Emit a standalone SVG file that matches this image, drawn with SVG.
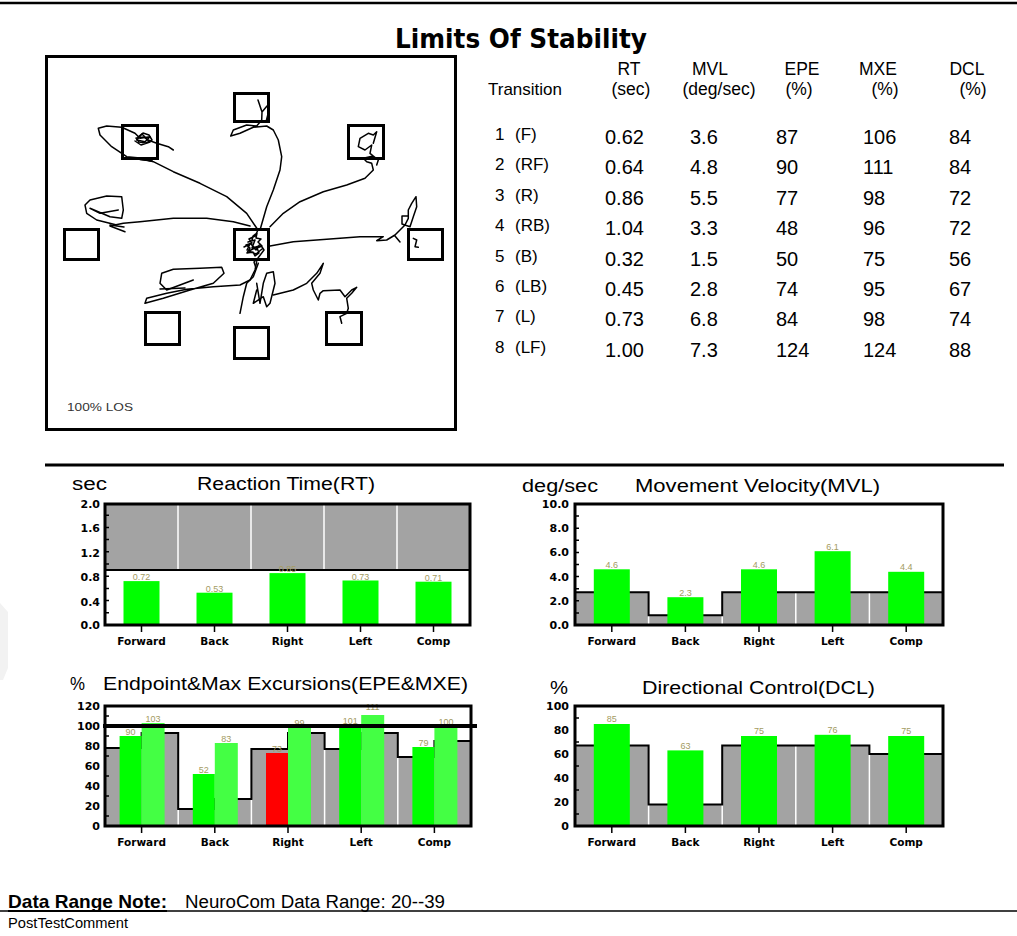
<svg xmlns="http://www.w3.org/2000/svg" width="1017" height="936" viewBox="0 0 1017 936">
<style>
  .frame{fill:none;stroke:#000;stroke-width:3}
  .gray{fill:#a3a3a3}
  .step{fill:none;stroke:#000;stroke-width:2}
  .div{stroke:#fff;stroke-width:1.5}
  .g1{fill:#00ff00}
  .g2{fill:#44ff44}
  .rd{fill:#ff0000}
  .val{font-family:"Liberation Sans",Arial,sans-serif;font-size:9px;fill:#a39b62;text-anchor:middle}
  .ytl{font-family:"DejaVu Sans",sans-serif;font-weight:bold;font-size:11px;text-anchor:end}
  .xtl{font-family:"DejaVu Sans",sans-serif;font-weight:bold;font-size:10.5px;text-anchor:middle}
  .tick{stroke:#000;stroke-width:1.5}
  .ct{font-family:"Liberation Sans",Arial,sans-serif;font-size:18px}
  .trace{fill:none;stroke:#000;stroke-width:1.5;stroke-linejoin:round;stroke-linecap:round}
  .tgt{fill:none;stroke:#000;stroke-width:3}
  .th{font-family:"Liberation Sans",Arial,sans-serif;font-size:17.5px;text-anchor:middle}
  .tl{font-family:"Liberation Sans",Arial,sans-serif;font-size:17px}
  .td{font-family:"Liberation Sans",Arial,sans-serif;font-size:20px}
</style>
<rect width="1017" height="936" fill="#fff"/>
<!-- page rules -->
<line x1="0" y1="3" x2="1017" y2="3" stroke="#000" stroke-width="2.5"/>
<line x1="45" y1="465" x2="1004" y2="465" stroke="#000" stroke-width="3"/>
<line x1="0" y1="911" x2="1017" y2="911" stroke="#000" stroke-width="1.5"/>
<polygon points="0,603 8,612 8,668 3,680 0,680" fill="#f2f2f2"/>

<text x="521" y="48" font-family="DejaVu Sans,sans-serif" font-weight="bold" font-size="27" text-anchor="middle" textLength="252" lengthAdjust="spacingAndGlyphs">Limits Of Stability</text>

<!-- sway trace plot -->
<g id="los-plot">
  <rect x="46.5" y="56.5" width="409" height="373" class="frame"/>
  <g id="traces">
    <!-- forward-left -->
    <path class="trace" d="M258,230 L246.7,213.3 L226.7,196.7 L200,183.3 L173.3,171.7 L153.3,161.7 L140,158 L126.7,156.7 L111.7,146.7 L100,135 L98.3,128.3 L106.7,126 L121.7,127.3 L135,133.3 L140,138.3 L150,136.7 L145,141.7 L136.7,140 L142,134 L148,140 L156.7,143.3 L168.3,146.7 L173.3,150"/>
    <path class="trace" d="M138,137 L143,133 L149,135 L152,140 L146,143 L139,142 L136,138 L144,137 L150,142 L141,145 L135,141 M124,158 L131,159 M138,159 L152,161"/>
    <path class="trace" d="M124,158 L131,159 M140,159.5 L152,161" stroke-width="2.5"/>
    <!-- forward -->
    <path class="trace" d="M260,230 L266.7,206.7 L273.3,190 L280,170 L281.7,156.7 L278.3,140 L273.3,130 L266.7,126 L253.3,127.3 L240,133.3 L230.7,136 L233.3,130 L246.7,125 L256.7,126 L261.7,120 L262,112 L258,100 M262,112 L267,106 M266,122 L268,114"/>
    <!-- forward-right -->
    <path class="trace" d="M270,226.7 L283.3,213.3 L300,201.7 L323.3,191.7 L346.7,185 L365,178.3 L373.3,170 L371.7,163.3 L366.7,161.7 L363.3,158.3 L373.3,156 L378.3,160 L376.7,165 M373.3,156 L370,153.3 L371.7,145 L365,150 L358.3,146.7 L360,138.3 L368.3,133.3 L373.3,135 L376.7,131.7 L373.3,143.3"/>
    <!-- left -->
    <path class="trace" d="M250,226 L233.3,221.7 L206.7,218.3 L173.3,218.3 L140,221.7 L123.3,223.3 L110,226 L125,231.7 M116.7,225 L96.7,220 L86.7,213.3 L85,205 L90,200 L106.7,196 L121.7,196.7 L123.3,210 L121.7,218.3 L110,216.7 L90,208.3 L100,213.3 L118.3,210"/>
    <path class="trace" d="M110,225 L124,227" stroke-width="2.5"/>
    <!-- right -->
    <path class="trace" d="M270,246 L293.3,241.7 L326.7,239.3 L360,236.7 L383.3,236.7 L376.7,240.7 L386.7,240 L395,235 L400,230 L405,225 L408.3,218.3 L408.3,210 L411.7,203.3 L416,196.7 L416.7,206.7 L413.3,216.7 L410,226.7 L402,224 L402,216 L408,216 M413.3,238.3 L416.7,240 L415,246.7 L418.3,247.3 M395,236 L400,242"/>
    <!-- centre -->
    <path class="trace" d="M258,230 L255,236 L249,239 L252,243 L246,245 L250,248 L247,253 L253,252 L255,256 L259,253 L257,248 L262,246 L258,242 L261,239 L256,238 L257,233 L253,236 L251,244 L256,250 L260,244 L264,250 L258,258 L254,262 L256,268 M248,242 L255,240 L252,248 L259,246 L249,251 L256,254 L262,249 M244,247 L250,244 L247,250"/>
    <!-- back-left -->
    <path class="trace" d="M256.7,261.7 L255,270 L250,280 L240,285 L213.3,286.7 L186.7,289.3 L166.7,293.3 L146.7,298.3 L145,303.3 L163.3,298.3 L190,290 L213.3,283.3 L224,273.3 L221.7,267.3 L200,268.3 L173.3,269.3 L161.7,273.3 L160,283.3 L166.7,290 L180,285 L193.3,280"/>
    <path class="trace" d="M160,289 L185,288" stroke-width="2.5"/>
    <!-- back -->
    <path class="trace" d="M258.3,263.3 L253.3,276.7 L246.7,283.3 L243.3,296.7 L240,313.3 M256.7,283.3 L260,303.3 L263.3,283.3 L266.7,273.3 L273.3,271.7 L275,283.3 L270,303.3 L266.7,306.7 L263.3,296.7 L253.3,303.3 L256.7,290"/>
    <!-- back-right -->
    <path class="trace" d="M273.3,295 L293.3,290 L306.7,283.3 L316.7,273.3 L323.3,263.3 L320,273.3 L311.7,283.3 L313.3,290 L318.3,300 L320,293.3 L323.3,290.7 L340,290 L345,296.7 L351.7,290 L356.7,287.3 L351.7,293.3 L346.7,298.3 L348.3,308.3 L346.7,313.3 L340,316.7 L341.7,323.3"/>
  </g>
  <g id="targets">
    <rect class="tgt" x="234.5" y="93.5" width="34" height="28"/>
    <rect class="tgt" x="122.5" y="125.5" width="35" height="33"/>
    <rect class="tgt" x="348.5" y="125.5" width="35" height="33"/>
    <rect class="tgt" x="64.5" y="229.5" width="34" height="30"/>
    <rect class="tgt" x="234.5" y="229.5" width="34" height="30"/>
    <rect class="tgt" x="408.5" y="229.5" width="34" height="30"/>
    <rect class="tgt" x="145.5" y="312.5" width="34" height="32"/>
    <rect class="tgt" x="234.5" y="327.5" width="34" height="31"/>
    <rect class="tgt" x="326.5" y="312.5" width="35" height="32"/>
  </g>
  <text x="67" y="411" font-family="Liberation Sans,Arial,sans-serif" font-size="11" fill="#333" textLength="66" lengthAdjust="spacingAndGlyphs">100% LOS</text>
</g>

<!-- results table -->
<g id="table">
  <text class="th" x="629" y="75">RT</text>
  <text class="th" x="710" y="75">MVL</text>
  <text class="th" x="802" y="75">EPE</text>
  <text class="th" x="878" y="75">MXE</text>
  <text class="th" x="967" y="75">DCL</text>
  <text class="tl" x="488" y="95" font-size="17.5">Transition</text>
  <text class="th" x="631" y="95">(sec)</text>
  <text class="th" x="719" y="95">(deg/sec)</text>
  <text class="th" x="799" y="95">(%)</text>
  <text class="th" x="885" y="95">(%)</text>
  <text class="th" x="973" y="95">(%)</text>
  <g class="tl">
    <text x="495" y="140">1</text><text x="515" y="140">(F)</text>
    <text x="495" y="170.4">2</text><text x="515" y="170.4">(RF)</text>
    <text x="495" y="200.8">3</text><text x="515" y="200.8">(R)</text>
    <text x="495" y="231.2">4</text><text x="515" y="231.2">(RB)</text>
    <text x="495" y="261.6">5</text><text x="515" y="261.6">(B)</text>
    <text x="495" y="292">6</text><text x="515" y="292">(LB)</text>
    <text x="495" y="322.4">7</text><text x="515" y="322.4">(L)</text>
    <text x="495" y="352.8">8</text><text x="515" y="352.8">(LF)</text>
  </g>
  <g class="td">
    <text x="605" y="144">0.62</text><text x="690" y="144">3.6</text><text x="776" y="144">87</text><text x="863" y="144">106</text><text x="949" y="144">84</text>
    <text x="605" y="174.4">0.64</text><text x="690" y="174.4">4.8</text><text x="776" y="174.4">90</text><text x="863" y="174.4">111</text><text x="949" y="174.4">84</text>
    <text x="605" y="204.8">0.86</text><text x="690" y="204.8">5.5</text><text x="776" y="204.8">77</text><text x="863" y="204.8">98</text><text x="949" y="204.8">72</text>
    <text x="605" y="235.2">1.04</text><text x="690" y="235.2">3.3</text><text x="776" y="235.2">48</text><text x="863" y="235.2">96</text><text x="949" y="235.2">72</text>
    <text x="605" y="265.6">0.32</text><text x="690" y="265.6">1.5</text><text x="776" y="265.6">50</text><text x="863" y="265.6">75</text><text x="949" y="265.6">56</text>
    <text x="605" y="296">0.45</text><text x="690" y="296">2.8</text><text x="776" y="296">74</text><text x="863" y="296">95</text><text x="949" y="296">67</text>
    <text x="605" y="326.4">0.73</text><text x="690" y="326.4">6.8</text><text x="776" y="326.4">84</text><text x="863" y="326.4">98</text><text x="949" y="326.4">74</text>
    <text x="605" y="356.8">1.00</text><text x="690" y="356.8">7.3</text><text x="776" y="356.8">124</text><text x="863" y="356.8">124</text><text x="949" y="356.8">88</text>
  </g>
</g>

<!-- Reaction Time chart -->
<g id="chart-rt">
  <text class="ct" x="72" y="490" textLength="35" lengthAdjust="spacingAndGlyphs">sec</text>
  <text class="ct" x="197" y="490" textLength="178" lengthAdjust="spacingAndGlyphs">Reaction Time(RT)</text>
  <rect class="gray" x="105" y="504" width="365" height="66"/>
  <path class="div" d="M178,504V570M251,504V570M324,504V570M397,504V570"/>
  <line x1="105" y1="570" x2="470" y2="570" stroke="#000" stroke-width="2"/>
  <rect class="g1" x="123.5" y="581.1" width="36" height="43.9"/>
  <rect class="g1" x="196.5" y="592.7" width="36" height="32.3"/>
  <rect class="g1" x="269.5" y="573.1" width="36" height="51.9"/>
  <rect class="g1" x="342.5" y="580.5" width="36" height="44.5"/>
  <rect class="g1" x="415.5" y="581.7" width="36" height="43.3"/>
  <text class="val" x="141.5" y="580">0.72</text>
  <text class="val" x="214.5" y="591.5">0.53</text>
  <text class="val" x="287.5" y="572">0.85</text>
  <text class="val" x="360.5" y="579.5">0.73</text>
  <text class="val" x="433.5" y="580.5">0.71</text>
  <rect class="frame" x="105" y="504" width="365" height="121"/>
  <path class="tick" d="M105,612.8h4M105,600.6h4M105,588.4h4M105,576.2h4M105,564h4M105,551.8h4M105,539.6h4M105,527.4h4M105,515.2h4M141.5,625v7M214.5,625v7M287.5,625v7M360.5,625v7M433.5,625v7"/>
  <g class="ytl">
    <text x="100" y="508">2.0</text><text x="100" y="532.4">1.6</text><text x="100" y="556.8">1.2</text>
    <text x="100" y="581.2">0.8</text><text x="100" y="605.6">0.4</text><text x="100" y="629">0.0</text>
  </g>
  <g class="xtl">
    <text x="141.5" y="645">Forward</text><text x="214.5" y="645">Back</text><text x="287.5" y="645">Right</text>
    <text x="360.5" y="645">Left</text><text x="433.5" y="645">Comp</text>
  </g>
</g>

<!-- Movement Velocity chart -->
<g id="chart-mvl">
  <text class="ct" x="522" y="492" textLength="76" lengthAdjust="spacingAndGlyphs">deg/sec</text>
  <text class="ct" x="635" y="492" textLength="245" lengthAdjust="spacingAndGlyphs">Movement Velocity(MVL)</text>
  <path class="gray" d="M575,625V592.3H648.6V615.3H722.2V592.3H943V625Z"/>
  <path class="div" d="M648.6,615.3V625M722.2,615.3V625M795.8,592.3V625M869.4,592.3V625"/>
  <path class="step" d="M575,592.3H648.6V615.3H722.2V592.3H943"/>
  <rect class="g1" x="593.8" y="569.3" width="36" height="55.7"/>
  <rect class="g1" x="667.4" y="597.2" width="36" height="27.8"/>
  <rect class="g1" x="741" y="569.3" width="36" height="55.7"/>
  <rect class="g1" x="814.6" y="551.2" width="36" height="73.8"/>
  <rect class="g1" x="888.2" y="571.8" width="36" height="53.2"/>
  <text class="val" x="611.8" y="567.5">4.6</text>
  <text class="val" x="685.4" y="595.5">2.3</text>
  <text class="val" x="759" y="567.5">4.6</text>
  <text class="val" x="832.6" y="549.5">6.1</text>
  <text class="val" x="906.2" y="570">4.4</text>
  <rect class="frame" x="575" y="504" width="368" height="121"/>
  <path class="tick" d="M575,612.9h4M575,600.8h4M575,588.7h4M575,576.6h4M575,564.5h4M575,552.4h4M575,540.3h4M575,528.2h4M575,516.1h4M611.8,625v7M685.4,625v7M759,625v7M832.6,625v7M906.2,625v7"/>
  <g class="ytl">
    <text x="569" y="508">10.0</text><text x="569" y="532.2">8.0</text><text x="569" y="556.4">6.0</text>
    <text x="569" y="580.6">4.0</text><text x="569" y="604.8">2.0</text><text x="569" y="629">0.0</text>
  </g>
  <g class="xtl">
    <text x="611.8" y="645">Forward</text><text x="685.4" y="645">Back</text><text x="759" y="645">Right</text>
    <text x="832.6" y="645">Left</text><text x="906.2" y="645">Comp</text>
  </g>
</g>

<!-- Endpoint & Max Excursions chart -->
<g id="chart-epe">
  <text class="ct" x="70" y="690" textLength="15" lengthAdjust="spacingAndGlyphs">%</text>
  <text class="ct" x="103" y="690" textLength="365" lengthAdjust="spacingAndGlyphs">Endpoint&amp;Max Excursions(EPE&amp;MXE)</text>
  <path class="gray" d="M105,826V748H141.6V733H178.2V809H214.8V799H251.4V749H288V733H324.6V749H361.2V733H397.8V757H434.4V741H471V826Z"/>
  <path class="div" d="M178.2,809V826M251.4,799V826M324.6,749V826M397.8,757V826"/>
  <path class="step" d="M105,748H141.6V733H178.2V809H214.8V799H251.4V749H288V733H324.6V749H361.2V733H397.8V757H434.4V741H471"/>
  <rect class="g1" x="119.6" y="736" width="22" height="90"/>
  <rect class="g2" x="141.6" y="723" width="23" height="103"/>
  <rect class="g1" x="192.8" y="774" width="22" height="52"/>
  <rect class="g2" x="214.8" y="743" width="23" height="83"/>
  <rect class="rd" x="266" y="753" width="22" height="73"/>
  <rect class="g2" x="288" y="727" width="23" height="99"/>
  <rect class="g1" x="339.2" y="725" width="22" height="101"/>
  <rect class="g2" x="361.2" y="715" width="23" height="111"/>
  <rect class="g1" x="412.4" y="747" width="22" height="79"/>
  <rect class="g2" x="434.4" y="726" width="23" height="100"/>
  <text class="val" x="130.6" y="734.5">90</text>
  <text class="val" x="153.1" y="721.5">103</text>
  <text class="val" x="203.8" y="772.5">52</text>
  <text class="val" x="226.3" y="741.5">83</text>
  <text class="val" x="277" y="751.5">73</text>
  <text class="val" x="299.5" y="725.5">99</text>
  <text class="val" x="350.2" y="723.5">101</text>
  <text class="val" x="372.7" y="710">111</text>
  <text class="val" x="423.4" y="745.5">79</text>
  <text class="val" x="445.9" y="724.5">100</text>
  <rect class="frame" x="105" y="706" width="366" height="120"/>
  <line x1="103" y1="726" x2="477" y2="726" stroke="#000" stroke-width="4"/>
  <path class="tick" d="M105,816h4M105,796h4M105,776h4M105,756h4M105,736h4M105,716h4M141.6,826v7M214.8,826v7M288,826v7M361.2,826v7M434.4,826v7"/>
  <g class="ytl">
    <text x="100" y="710">120</text><text x="100" y="730">100</text><text x="100" y="750">80</text>
    <text x="100" y="770">60</text><text x="100" y="790">40</text><text x="100" y="810">20</text><text x="100" y="830">0</text>
  </g>
  <g class="xtl">
    <text x="141.6" y="846">Forward</text><text x="214.8" y="846">Back</text><text x="288" y="846">Right</text>
    <text x="361.2" y="846">Left</text><text x="434.4" y="846">Comp</text>
  </g>
</g>

<!-- Directional Control chart -->
<g id="chart-dcl">
  <text class="ct" x="550" y="694" textLength="18" lengthAdjust="spacingAndGlyphs">%</text>
  <text class="ct" x="642" y="694" textLength="233" lengthAdjust="spacingAndGlyphs">Directional Control(DCL)</text>
  <path class="gray" d="M575,826V745.6H648.6V804.4H722.2V745.6H869.4V754H943V826Z"/>
  <path class="div" d="M648.6,804.4V826M722.2,804.4V826M795.8,745.6V826M869.4,754V826"/>
  <path class="step" d="M575,745.6H648.6V804.4H722.2V745.6H869.4V754H943"/>
  <rect class="g1" x="593.8" y="724" width="36" height="102"/>
  <rect class="g1" x="667.4" y="750.4" width="36" height="75.6"/>
  <rect class="g1" x="741" y="736" width="36" height="90"/>
  <rect class="g1" x="814.6" y="734.8" width="36" height="91.2"/>
  <rect class="g1" x="888.2" y="736" width="36" height="90"/>
  <text class="val" x="611.8" y="722">85</text>
  <text class="val" x="685.4" y="748.5">63</text>
  <text class="val" x="759" y="734">75</text>
  <text class="val" x="832.6" y="733">76</text>
  <text class="val" x="906.2" y="734">75</text>
  <rect class="frame" x="575" y="706" width="368" height="120"/>
  <path class="tick" d="M575,814h4M575,790h4M575,766h4M575,742h4M575,718h4M611.8,826v7M685.4,826v7M759,826v7M832.6,826v7M906.2,826v7"/>
  <g class="ytl">
    <text x="569" y="710">100</text><text x="569" y="734">80</text><text x="569" y="758">60</text>
    <text x="569" y="782">40</text><text x="569" y="806">20</text><text x="569" y="830">0</text>
  </g>
  <g class="xtl">
    <text x="611.8" y="846">Forward</text><text x="685.4" y="846">Back</text><text x="759" y="846">Right</text>
    <text x="832.6" y="846">Left</text><text x="906.2" y="846">Comp</text>
  </g>
</g>

<!-- notes -->
<g id="notes">
  <text x="8" y="908" font-family="Liberation Sans,Arial,sans-serif" font-weight="bold" font-size="19" textLength="159" lengthAdjust="spacingAndGlyphs">Data Range Note:</text>
  <line x1="8" y1="911" x2="167" y2="911" stroke="#000" stroke-width="2"/>
  <text x="185" y="908" font-family="Liberation Sans,Arial,sans-serif" font-size="18" textLength="260" lengthAdjust="spacingAndGlyphs">NeuroCom Data Range: 20--39</text>
  <text x="8" y="928" font-family="Liberation Sans,Arial,sans-serif" font-size="14" textLength="120" lengthAdjust="spacingAndGlyphs">PostTestComment</text>
</g>
</svg>
